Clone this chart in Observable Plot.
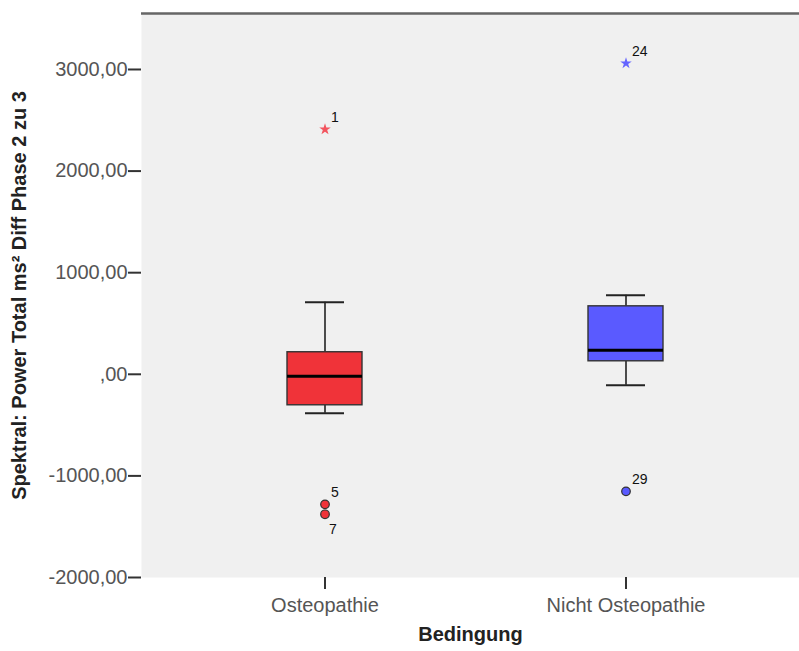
<!DOCTYPE html>
<html>
<head>
<meta charset="utf-8">
<script src="https://cdn.jsdelivr.net/npm/d3@7"></script>
<script src="https://cdn.jsdelivr.net/npm/@observablehq/plot@0.6"></script>
<style>
  html, body { margin: 0; padding: 0; background: #fff; }
  svg { display: block; }
</style>
</head>
<body>
<div id="chart"></div>
<script>
// ---- data ----
const groups = ["Osteopathie", "Nicht Osteopathie"];
const whiskerLow  = [-384, -108];
const q1          = [-305, 128];
const median      = [-20, 236];
const q3          = [217, 669];
const whiskerHigh = [709, 778];

const outlierCase  = ["1", "5", "7", "24", "29"];
const outlierGroup = ["Osteopathie", "Osteopathie", "Osteopathie", "Nicht Osteopathie", "Nicht Osteopathie"];
const outlierValue = [2411, -1280, -1378, 3061, -1152];
const outlierKind  = ["extreme", "outlier", "outlier", "extreme", "outlier"];

const yTicks = [-2000, -1000, 0, 1000, 2000, 3000];
const yLabel = "Spektral: Power Total ms² Diff Phase 2 zu 3";
const xLabel = "Bedingung";

// ---- build tables ----
const boxes = groups.map((g, i) => ({
  group: g, lo: whiskerLow[i], q1: q1[i], med: median[i], q3: q3[i], hi: whiskerHigh[i]
}));
const outliers = outlierCase.map((c, i) => ({
  id: c, group: outlierGroup[i], value: outlierValue[i], kind: outlierKind[i]
}));

const fillColor = {"Osteopathie": "#f03339", "Nicht Osteopathie": "#5a5aff"};
const starColor = {"Osteopathie": "#f2545e", "Nicht Osteopathie": "#6464ff"};
const belowLabels = new Set(["7"]);

const fmt = v => {
  if (v === 0) return ",00";
  return d3.format(".2f")(v).replace(".", ",").replace("\u2212", "-");
};

const font = "Liberation Sans, Arial, sans-serif";

const chart = Plot.plot({
  width: 799,
  height: 651,
  marginLeft: 141,
  marginTop: 13,
  marginRight: 0,
  marginBottom: 74,
  style: {fontFamily: font, background: "#fff"},
  x: {type: "band", domain: groups, range: [286.5, 662.5], paddingInner: 0.751, paddingOuter: 0},
  y: {domain: [-2000, 3551], ticks: yTicks},
  marks: [
    Plot.frame({fill: "#f0f0f0", stroke: "none"}),
    Plot.ruleY([3551], {stroke: "#666", strokeWidth: 2.5}),
    // whiskers
    Plot.ruleX(boxes, {x: "group", y1: "lo", y2: "q1", stroke: "#222", strokeWidth: 1.6}),
    Plot.ruleX(boxes, {x: "group", y1: "q3", y2: "hi", stroke: "#222", strokeWidth: 1.6}),
    Plot.tickY(boxes, {x: "group", y: "lo", stroke: "#222", strokeWidth: 2, insetLeft: 18, insetRight: 18}),
    Plot.tickY(boxes, {x: "group", y: "hi", stroke: "#222", strokeWidth: 2, insetLeft: 18, insetRight: 18}),
    // boxes
    Plot.barY(boxes, {x: "group", y1: "q1", y2: "q3", fill: d => fillColor[d.group], stroke: "#333", strokeWidth: 1.4}),
    Plot.tickY(boxes, {x: "group", y: "med", stroke: "#000", strokeWidth: 3}),
    // outliers
    Plot.dot(outliers.filter(d => d.kind === "outlier"), {
      x: "group", y: "value", r: 4.3, fill: d => fillColor[d.group], stroke: "#333", strokeWidth: 1.2
    }),
    Plot.dot(outliers.filter(d => d.kind === "extreme"), {
      x: "group", y: "value", symbol: "star", r: 3.6, fill: d => starColor[d.group], stroke: "none"
    }),
    Plot.text(outliers.filter(d => !belowLabels.has(d.id)), {
      x: "group", y: "value", text: "id", textAnchor: "start", dx: 6, dy: -12,
      fontSize: 14, fill: "#111"
    }),
    Plot.text(outliers.filter(d => belowLabels.has(d.id)), {
      x: "group", y: "value", text: "id", textAnchor: "start", dx: 4, dy: 15,
      fontSize: 14, fill: "#111"
    }),
    // axes
    Plot.axisY({
      ticks: yTicks, tickFormat: fmt, tickSize: 13, tickPadding: 1, fontSize: 20,
      label: null, line: true, stroke: "#333", strokeWidth: 2, fill: "#555"
    }),
    Plot.axisX({
      tickSize: 12, tickPadding: 8, fontSize: 20, label: null, line: true,
      stroke: "#333", strokeWidth: 2, fill: "#555"
    }),
    // axis titles
    Plot.text([yLabel], {
      frameAnchor: "left", textAnchor: "middle", text: d => d, rotate: -90, dx: -122,
      fontSize: 20, fontWeight: "bold", fill: "#222", letterSpacing: 0.4
    }),
    Plot.text([xLabel], {
      frameAnchor: "bottom", textAnchor: "middle", text: d => d, dy: 63,
      fontSize: 20, fontWeight: "bold", fill: "#222", letterSpacing: 0.4
    })
  ]
});

document.getElementById("chart").appendChild(chart);
</script>
</body>
</html>
